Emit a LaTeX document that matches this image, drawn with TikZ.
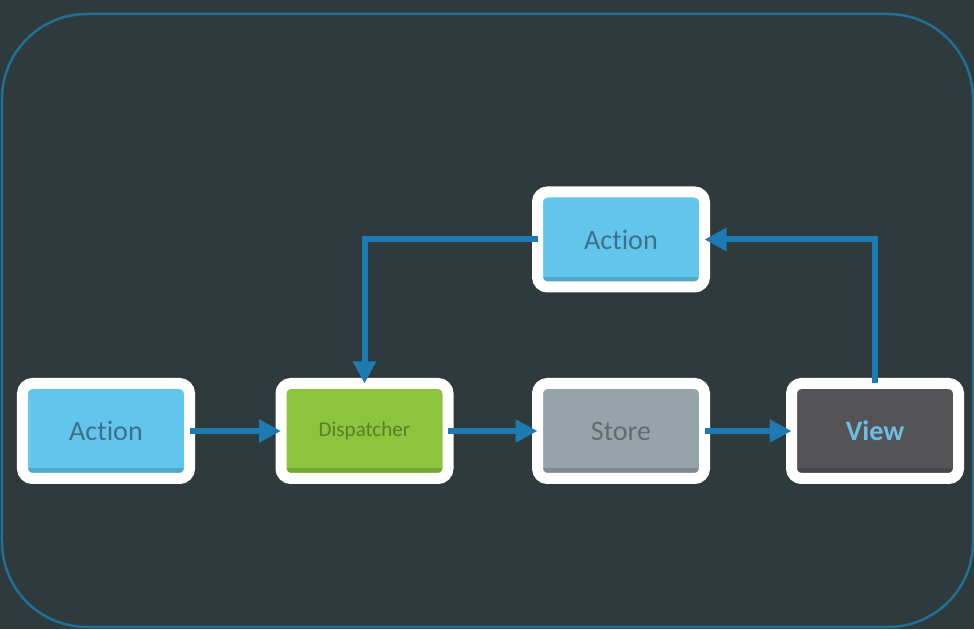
\documentclass[tikz,border=0pt]{standalone}
\usepackage{fontspec}
\setmainfont[Ligatures={NoCommon}]{Carlito}
\usetikzlibrary{arrows.meta}
\definecolor{slate}{RGB}{47,58,60}
\definecolor{frameblue}{RGB}{32,112,150}
\definecolor{arrowblue}{RGB}{30,122,178}
\definecolor{skyblue}{RGB}{98,198,236}
\definecolor{skytext}{RGB}{62,112,140}
\definecolor{limegreen}{RGB}{140,196,62}
\definecolor{limetext}{RGB}{88,128,40}
\definecolor{storegray}{RGB}{150,164,170}
\definecolor{storetext}{RGB}{98,108,112}
\definecolor{viewgray}{RGB}{84,84,86}
\definecolor{viewtext}{RGB}{110,190,228}

\tikzset{
  block/.style={draw=white, line width=0.22cm, rounded corners=0.2cm,
    minimum width=3.34cm, minimum height=1.9cm, inner sep=0pt, outer sep=0pt, fill=#1,
    path picture={\fill[#1!85!black, sharp corners] (path picture bounding box.south west)
      rectangle ([yshift=0.2cm]path picture bounding box.south east);},
    font=\fontsize{16}{18}\selectfont},
  flow/.style={draw=arrowblue, line width=0.12cm, -{Triangle[length=0.44cm,width=0.44cm]}}
}

\begin{document}
\begin{tikzpicture}
            \fill[slate] (0,0) rectangle (19.48,12.58);
            \useasboundingbox (0,0) rectangle (19.48,12.58);
            \draw[frameblue, line width=0.05cm, rounded corners=1.7cm] (0.04,0.04) rectangle (19.46,12.30);
            % boxes
            \node[block=skyblue,   text=skytext]   (action)     at ( 2.12, 3.96) {Action};
            \node[block=limegreen, text=limetext, font=\fontsize{12}{14}\selectfont] (dispatcher) at ( 7.29, 3.96) {Dispatcher};
            \node[block=storegray, text=storetext] (store)      at (12.42, 3.96) {Store};
            \node[block=viewgray,  text=viewtext, font=\fontsize{16}{18}\selectfont\bfseries] (view) at (17.50, 3.96) {View};
            \node[block=skyblue,   text=skytext]   (newaction)  at (12.42, 7.79) {Action};
            % flow
            \draw[flow] (action.east) -- (dispatcher.west);
            \draw[flow] (dispatcher.east) -- (store.west);
            \draw[flow] (store.east) -- (view.west);
            \draw[flow] (view.north) |- (newaction.east);
            \draw[flow] (newaction.west) -| (dispatcher.north);
        \end{tikzpicture}
\end{document}
